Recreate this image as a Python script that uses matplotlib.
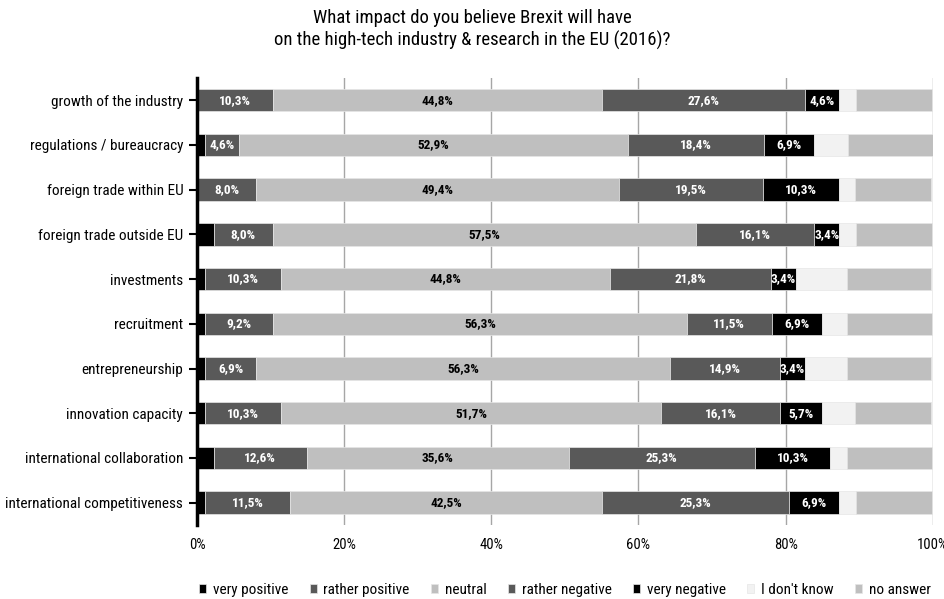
import matplotlib
matplotlib.use("Agg")
import numpy as np
import matplotlib.pyplot as plt
from matplotlib.ticker import PercentFormatter

# --- Dados ---
categorias = [
    "growth of the industry",
    "regulations / bureaucracy",
    "foreign trade within EU",
    "foreign trade outside EU",
    "investments",
    "recruitment",
    "entrepreneurship",
    "innovation capacity",
    "international collaboration",
    "international competitiveness",
]
respostas = ["very positive", "rather positive", "neutral", "rather negative",
             "very negative", "I don't know", "no answer"]

very_positive   = [0.0, 1.1, 0.0, 2.3, 1.1, 1.1, 1.1, 1.1, 2.3, 1.1]
rather_positive = [10.3, 4.6, 8.0, 8.0, 10.3, 9.2, 6.9, 10.3, 12.6, 11.5]
neutral         = [44.8, 52.9, 49.4, 57.5, 44.8, 56.3, 56.3, 51.7, 35.6, 42.5]
rather_negative = [27.6, 18.4, 19.5, 16.1, 21.8, 11.5, 14.9, 16.1, 25.3, 25.3]
very_negative   = [4.6, 6.9, 10.3, 3.4, 3.4, 6.9, 3.4, 5.7, 10.3, 6.9]
dont_know       = [2.3, 4.6, 2.3, 2.3, 6.9, 3.4, 5.7, 4.6, 2.3, 2.3]
no_answer       = [10.3, 11.5, 10.3, 10.3, 11.5, 11.5, 11.5, 10.3, 11.5, 10.3]

series = [very_positive, rather_positive, neutral, rather_negative,
          very_negative, dont_know, no_answer]
cores = ["#000000", "#595959", "#bfbfbf", "#595959", "#000000", "#f2f2f2", "#bfbfbf"]
# quais séries recebem rótulo e com qual cor de texto
rotulo_cor = [None, "white", "black", "white", "white", None, None]

plt.rcParams["font.family"] = ["Roboto Condensed", "DejaVu Sans"]

fig = plt.figure(figsize=(9.45, 5.99), dpi=100)
ax = fig.add_axes([0.2085, 0.1235, 0.7785, 0.7465])

y = np.arange(len(categorias))
esquerda = np.zeros(len(categorias))
for valores, cor, nome, cor_txt in zip(series, cores, respostas, rotulo_cor):
    valores = np.array(valores)
    ax.barh(y, valores, left=esquerda, height=0.5, color=cor, label=nome,
            edgecolor="#e6e6e6", linewidth=0.5, zorder=2)
    if cor_txt is not None:
        for yi, (l, v) in enumerate(zip(esquerda, valores)):
            if v > 0:
                ax.text(l + v / 2, yi, f"{v:.1f}%".replace(".", ","),
                        ha="center", va="center", color=cor_txt,
                        fontsize=9.5, fontweight="bold", zorder=3)
    esquerda += valores

ax.set_xlim(0, 100)
ax.set_ylim(len(categorias) - 0.5, -0.5)
ax.set_yticks(y)
ax.set_yticklabels(categorias, fontsize=11)
ax.set_xticks([0, 20, 40, 60, 80, 100])
ax.xaxis.set_major_formatter(PercentFormatter(decimals=0))
ax.tick_params(axis="x", length=0, pad=9, labelsize=10.5)
ax.tick_params(axis="y", length=6, width=1.5, color="black", pad=4)

ax.grid(axis="x", color="#a6a6a6", linewidth=1, zorder=0)
ax.set_axisbelow(True)
for lado in ["top", "right", "bottom"]:
    ax.spines[lado].set_visible(False)
ax.spines["left"].set_linewidth(2.5)
ax.spines["left"].set_zorder(4)

fig.suptitle("What impact do you believe Brexit will have\n"
             "on the high-tech industry & research in the EU (2016)?",
             x=0.5, y=0.985, fontsize=13.5, linespacing=1.25)

ax.legend(loc="center", bbox_to_anchor=(0.5, -0.145), ncol=7, frameon=False,
          fontsize=11, handlelength=0.45, handleheight=0.45, handletextpad=0.45,
          columnspacing=1.4)

fig.savefig("out.png", dpi=100)
